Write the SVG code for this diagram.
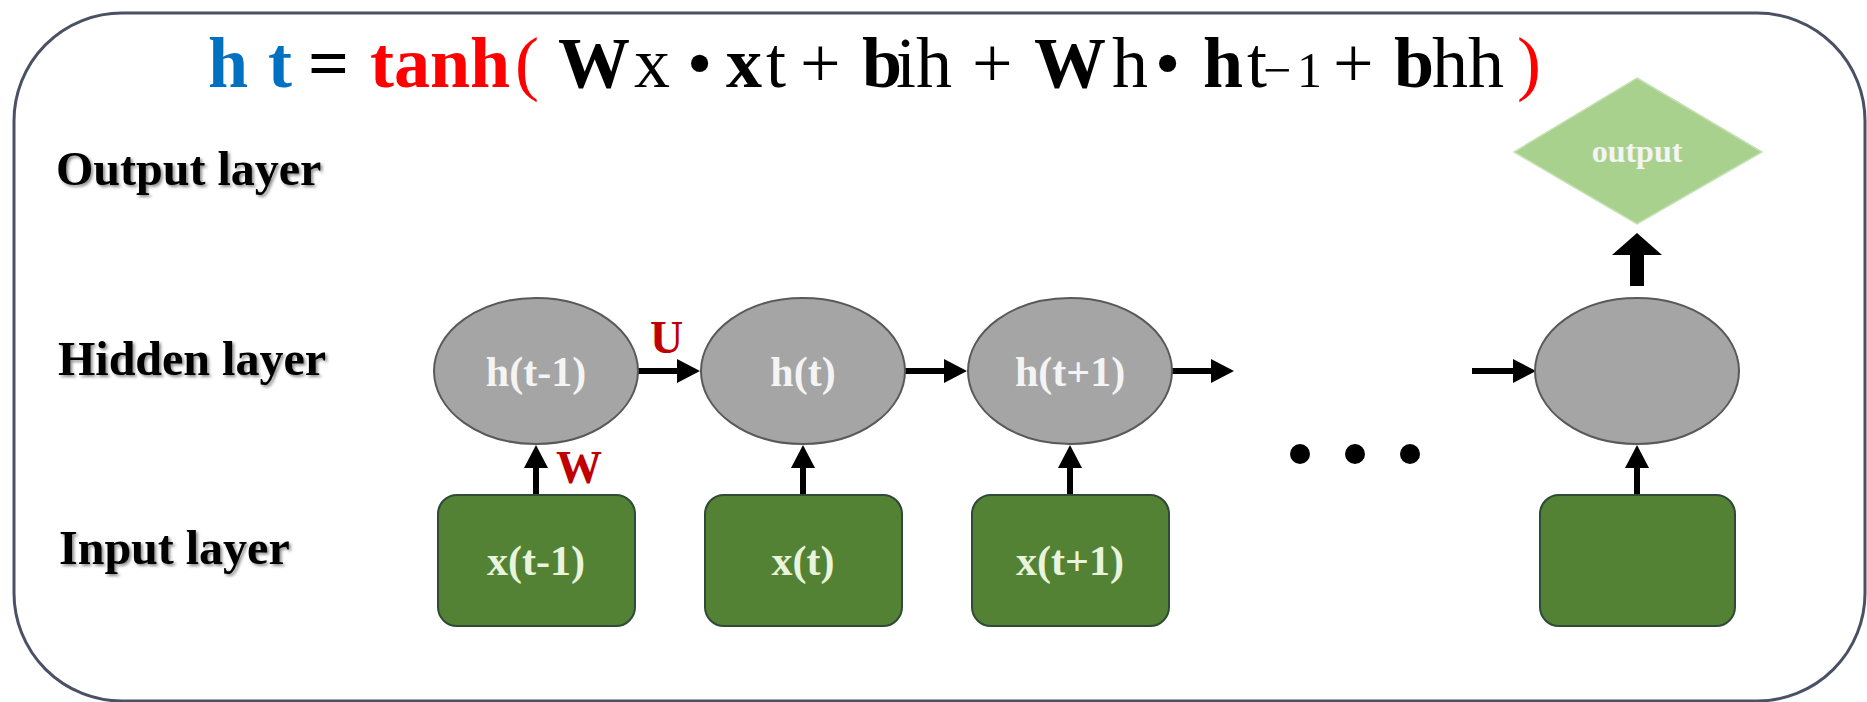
<svg xmlns="http://www.w3.org/2000/svg" width="1867" height="702" viewBox="0 0 1867 702">
<defs>
<style>
.frame{fill:#ffffff;stroke:#4a5166;stroke-width:3}
.fb{font-family:"Liberation Serif","Times New Roman",serif;font-weight:bold;font-size:72px;fill:#000}
.fr{font-family:"Liberation Serif","Times New Roman",serif;font-weight:normal;font-size:72px;fill:#000}
.blue{fill:#0070c0}
.red{fill:#ff0000}
.lay{font-family:"Liberation Serif","Times New Roman",serif;font-weight:bold;font-size:48px;fill:#000;filter:url(#sh)}
.hid{fill:#a5a5a5;stroke:#595959;stroke-width:2}
.inp{fill:#548235;stroke:#2f4a36;stroke-width:2}
.hl{font-family:"Liberation Serif","Times New Roman",serif;font-weight:bold;font-size:42px;fill:#f4f4f4;text-anchor:middle}
.xl{font-family:"Liberation Serif","Times New Roman",serif;font-weight:bold;font-size:42px;fill:#e8f4dc;text-anchor:middle}
.wl{font-family:"Liberation Serif","Times New Roman",serif;font-weight:bold;font-size:46px;fill:#c00000}
.ol{font-family:"Liberation Serif","Times New Roman",serif;font-weight:bold;font-size:32px;fill:#f4f4f4;text-anchor:middle}
.ar{stroke:#000;stroke-width:6;fill:none;marker-end:url(#ah)}
</style>
<marker id="ah" markerUnits="userSpaceOnUse" markerWidth="24" markerHeight="24" refX="0" refY="12" orient="auto" viewBox="0 0 24 24">
<path d="M0,0 L23,12 L0,24 z" fill="#000"/>
</marker>
<filter id="sh" x="-5%" y="-20%" width="115%" height="150%">
<feDropShadow dx="2" dy="2" stdDeviation="1.5" flood-color="#000" flood-opacity="0.45"/>
</filter>
</defs>

<rect class="frame" x="14" y="13" width="1851" height="688" rx="108" ry="108"/>

<g id="formula">
<text class="fb blue" x="208" y="87">h</text>
<text class="fb blue" x="268" y="87">t</text>
<text class="fb" x="308" y="87">=</text>
<text class="fb red" x="370" y="87">tanh</text>
<text class="fr red" x="515" y="87">(</text>
<text class="fb" x="558" y="87">W</text>
<text class="fr" x="634" y="87">x</text>
<text class="fr" x="687" y="87">•</text>
<text class="fb" x="726" y="87">x</text>
<text class="fr" x="766" y="87">t</text>
<text class="fr" x="800" y="87">+</text>
<text class="fb" x="862" y="87">b</text>
<text class="fr" x="896" y="87">ih</text>
<text class="fr" x="972" y="87">+</text>
<text class="fb" x="1034" y="87">W</text>
<text class="fr" x="1112" y="87">h</text>
<text class="fr" x="1155" y="87">•</text>
<text class="fb" x="1203" y="87">h</text>
<text class="fr" x="1247" y="87">t</text>
<text class="fr" x="1263" y="87" style="font-size:50px">−</text>
<text class="fr" x="1297" y="87" style="font-size:50px">1</text>
<text class="fr" x="1333" y="87">+</text>
<text class="fb" x="1394" y="87">b</text>
<text class="fr" x="1432" y="87">hh</text>
<text class="fr red" x="1517" y="87">)</text>
</g>

<g id="layer-labels">
<text class="lay" x="56" y="185">Output layer</text>
<text class="lay" x="58" y="375">Hidden layer</text>
<text class="lay" x="59" y="564">Input layer</text>
</g>

<g id="connectors">
<line class="ar" x1="638" y1="371" x2="677" y2="371"/>
<line class="ar" x1="904" y1="371" x2="944" y2="371"/>
<line class="ar" x1="1171" y1="371" x2="1211" y2="371"/>
<line class="ar" x1="1472" y1="371" x2="1513" y2="371"/>
<line class="ar" x1="536" y1="495" x2="536" y2="468"/>
<line class="ar" x1="803" y1="495" x2="803" y2="468"/>
<line class="ar" x1="1070" y1="495" x2="1070" y2="468"/>
<line class="ar" x1="1637" y1="495" x2="1637" y2="468"/>
<path d="M1630,286 L1644,286 L1644,255 L1662,255 L1637,233 L1612,255 L1630,255 z" fill="#000"/>
<text class="wl" x="650" y="353">U</text>
<text class="wl" x="556" y="483">W</text>
</g>

<g id="dots" fill="#000">
<circle cx="1300" cy="454" r="10"/>
<circle cx="1355" cy="454" r="10"/>
<circle cx="1410" cy="454" r="10"/>
</g>

<g id="output">
<polygon points="1637,78 1762,152 1637,224 1514,152" fill="#a9d18e" stroke="#c5e0b4" stroke-width="1.5"/>
<text class="ol" x="1637" y="162">output</text>
</g>

<g id="h-t-1"><ellipse class="hid" cx="536" cy="371" rx="102" ry="73"/><text class="hl" x="536" y="386">h(t-1)</text></g>
<g id="h-t"><ellipse class="hid" cx="803" cy="371" rx="102" ry="73"/><text class="hl" x="803" y="386">h(t)</text></g>
<g id="h-t1"><ellipse class="hid" cx="1070" cy="371" rx="102" ry="73"/><text class="hl" x="1070" y="386">h(t+1)</text></g>
<g id="h-last"><ellipse class="hid" cx="1637" cy="371" rx="102" ry="73"/></g>

<g id="x-t-1"><rect class="inp" x="438" y="495" width="197" height="131" rx="19"/><text class="xl" x="536" y="575">x(t-1)</text></g>
<g id="x-t"><rect class="inp" x="705" y="495" width="197" height="131" rx="19"/><text class="xl" x="803" y="575">x(t)</text></g>
<g id="x-t1"><rect class="inp" x="972" y="495" width="197" height="131" rx="19"/><text class="xl" x="1070" y="575">x(t+1)</text></g>
<g id="x-last"><rect class="inp" x="1540" y="495" width="195" height="131" rx="19"/></g>
</svg>
